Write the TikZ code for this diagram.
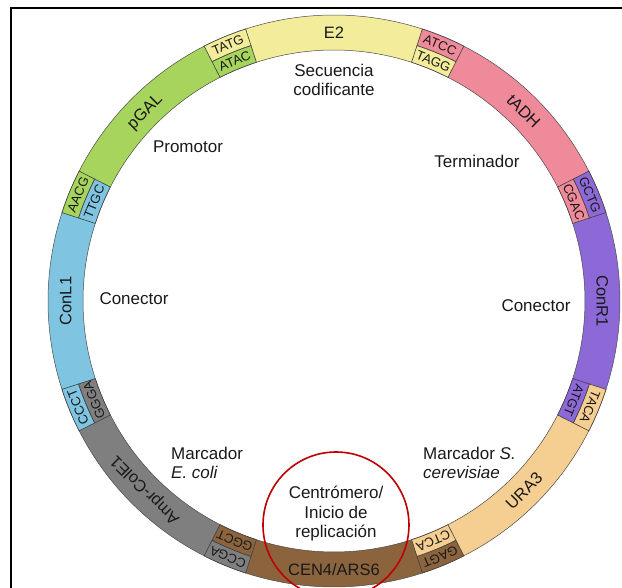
\documentclass[tikz,border=0pt]{standalone}
\usepackage{fontspec}
\setmainfont{Liberation Sans}
\definecolor{colE2}{RGB}{243,236,154}
\definecolor{coltADH}{RGB}{238,138,153}
\definecolor{colConR}{RGB}{140,105,214}
\definecolor{colURA}{RGB}{245,206,145}
\definecolor{colCEN}{RGB}{139,100,62}
\definecolor{colAmp}{RGB}{127,127,127}
\definecolor{colConL}{RGB}{127,196,224}
\definecolor{colGAL}{RGB}{166,212,92}
\definecolor{circred}{RGB}{192,0,0}
\tikzset{
  segment/.style={draw=black!70, line width=0.5pt},
  ohbox/.style={draw=black!75, line width=0.6pt},
  seglabel/.style={font=\fontsize{16.5}{18}\selectfont, inner sep=0pt,
                   text height=11.8pt, text depth=0pt, text=black!90},
  ohlabel/.style={font=\fontsize{13}{14}\selectfont, inner sep=0pt,
                  text height=9.3pt, text depth=0pt, text=black!90},
  partlabel/.style={font=\fontsize{17}{19.5}\selectfont, align=center,
                    inner sep=0pt, text=black!90}
}

\begin{document}
\begin{tikzpicture}[x=1pt, y=1pt]
\useasboundingbox (-334,-287) rectangle (288,301);

% Frame
\draw[line width=1.5pt] (-323,-300) |- (300,293);

% Ring segments
\foreach \a/\c in {90/colE2, 45/coltADH, 0/colConR, -45/colURA,
                   -90/colCEN, -135/colAmp, 180/colConL, 135/colGAL} {
  \draw[segment, fill=\c] (\a-22.5:286) arc[start angle=\a-22.5, end angle=\a+22.5, radius=286]
    -- (\a+22.5:251) arc[start angle=\a+22.5, end angle=\a-22.5, radius=251] -- cycle;
}

% Overhang boxes
\foreach \j/\co/\outtxt/\ci/\intxt [count=\k] in {112.5/colE2/TATG/colGAL/ATAC,
    67.5/coltADH/ATCC/colE2/TAGG, 22.5/colConR/GCTG/coltADH/CGAC,
    -22.5/colURA/TACA/colConR/ATGT, -67.5/colCEN/GAGT/colURA/CTCA,
    -112.5/colAmp/CCGA/colCEN/GGCT, -157.5/colConL/CCCT/colAmp/GGGA,
    157.5/colGAL/AACG/colConL/TTGC} {
  \draw[ohbox, fill=\co] (\j-4.5:268.5) arc[start angle=\j-4.5, end angle=\j+4.5, radius=268.5]
    -- (\j+4.5:286) arc[start angle=\j+4.5, end angle=\j-4.5, radius=286] -- cycle;
  \draw[ohbox, fill=\ci] (\j-4.5:251) arc[start angle=\j-4.5, end angle=\j+4.5, radius=251]
    -- (\j+4.5:268.5) arc[start angle=\j+4.5, end angle=\j-4.5, radius=268.5] -- cycle;
  \node[ohlabel, rotate=\j-90] (ohout\k) at (\j:277.3) {\outtxt};
  \node[ohlabel, rotate=\j-90] (ohin\k) at (\j:259.8) {\intxt};
}

% Part names on the ring
\foreach \a/\r/\t [count=\i] in {90/0/E2, 45/-45/tADH, 0/-90/ConR1, -45/45/URA3,
                                 -135/135/Ampr-ColE1, 180/90/ConL1, 135/45/pGAL} {
  \node[seglabel, rotate=\r] (seg\i) at (\a:268.5) {\t};
}
\node[seglabel] (segcen) at (-90:268.5) {CEN4/ARS6};

% Functions inside the ring
\node[partlabel] (cds) at (0,221) {Secuencia\\codificante};
\node[partlabel] (prom) at (-146,154) {Promotor};
\node[partlabel] (term) at (143,140) {Terminador};
\node[partlabel] (conl) at (-200,2) {Conector};
\node[partlabel] (conr) at (202,-5) {Conector};
\node[partlabel, align=left, anchor=west] (mecoli) at (-163,-162) {Marcador\\\textit{E. coli}};
\node[partlabel, align=left, anchor=west] (mscer) at (89,-162) {Marcador \textit{S.}\\\textit{cerevisiae}};
\node[partlabel] (cenori) at (2,-213) {Centrómero/\\Inicio de\\replicación};

% Highlight
\draw[circred, line width=1.6pt] (2,-224) circle[radius=73];
\end{tikzpicture}
\end{document}
